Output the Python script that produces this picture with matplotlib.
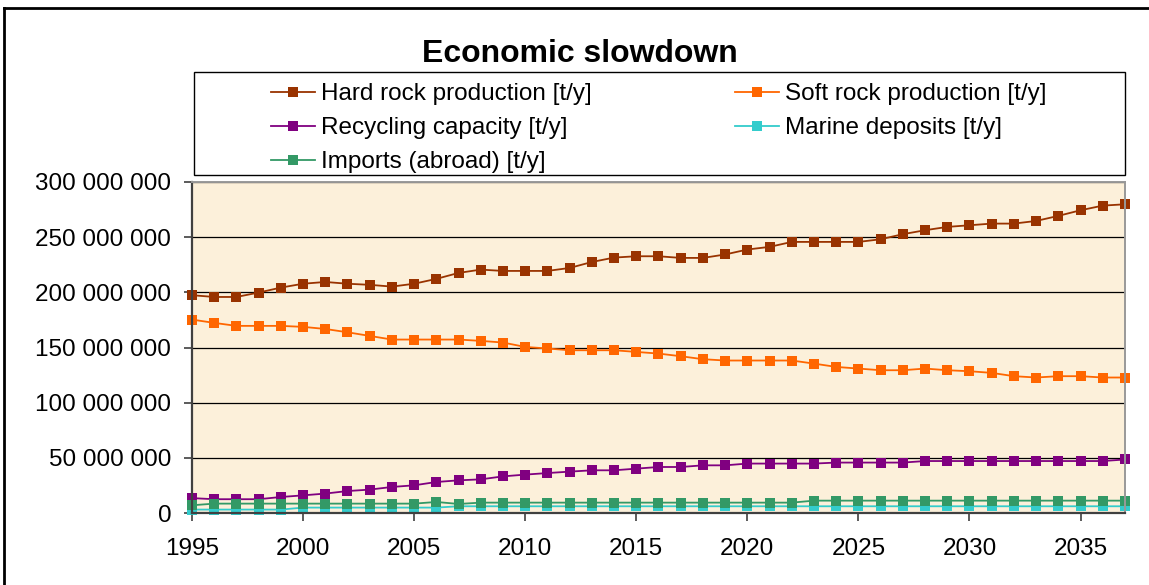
import matplotlib
matplotlib.use("Agg")
import matplotlib.pyplot as plt
from matplotlib.ticker import FuncFormatter, MultipleLocator
from matplotlib.patches import Rectangle
from matplotlib.lines import Line2D

plt.rcParams['font.family'] = ['Liberation Sans', 'DejaVu Sans']

years = list(range(1995, 2038))

hard_rock = [197.4, 195.8, 195.8, 199.8, 204.3, 207.8, 209.4, 207.8, 206.8, 205.2,
             207.8, 212.2, 217.6, 220.6, 219.4, 219.4, 219.4, 222.1, 227.5, 231.5,
             232.7, 232.7, 231.2, 231.2, 234.3, 238.8, 241.2, 245.7, 245.7, 245.7,
             245.7, 248.1, 252.7, 256.3, 259.3, 260.8, 262.3, 262.3, 264.7, 269.3,
             274.4, 278.6, 279.8]
soft_rock = [175.3, 172.3, 169.6, 169.6, 169.6, 168.7, 166.8, 163.8, 160.5, 157.2,
             157.2, 157.2, 157.2, 156.0, 154.5, 150.5, 149.1, 147.5, 147.5, 147.5,
             146.0, 144.5, 142.1, 139.4, 138.2, 138.2, 138.2, 138.2, 135.4, 132.4,
             130.9, 129.4, 129.4, 130.9, 129.4, 128.5, 127.0, 124.0, 122.8, 124.0,
             124.0, 122.8, 122.8]
recycling = [13.5, 12.5, 12.5, 12.5, 14.5, 16.0, 17.6, 19.9, 21.2, 23.6,
             25.1, 28.1, 29.6, 30.5, 33.2, 34.8, 36.2, 37.5, 38.7, 38.7,
             40.2, 41.7, 41.7, 43.2, 43.2, 44.8, 44.8, 44.8, 44.8, 45.7,
             45.7, 45.7, 45.7, 47.1, 47.1, 47.1, 47.1, 47.1, 47.1, 47.1,
             47.1, 47.1, 48.5]
marine = [3.1, 3.1, 3.1, 3.1, 3.1, 4.9, 4.9, 4.9, 4.9, 4.9,
          4.9, 4.9, 6.1, 6.1, 6.1, 6.1, 6.1, 6.1, 6.1, 6.1,
          6.1, 6.1, 6.1, 6.1, 6.1, 6.1, 6.1, 6.1, 6.1, 6.1,
          6.1, 6.1, 6.1, 6.1, 6.1, 6.1, 6.1, 6.1, 6.1, 6.1,
          6.1, 6.1, 6.1]
imports = [7.0, 8.5, 8.5, 8.5, 8.5, 8.5, 8.5, 8.5, 8.5, 8.5,
           8.5, 10.0, 8.2, 9.4, 9.4, 9.4, 9.4, 9.4, 9.4, 9.4,
           9.4, 9.4, 9.4, 9.4, 9.4, 9.4, 9.4, 9.4, 11.2, 11.2,
           11.2, 11.2, 11.2, 11.2, 11.2, 11.2, 11.2, 11.2, 11.2, 11.2,
           11.2, 11.2, 11.2]

series_labels = ["Hard rock production [t/y]", "Soft rock production [t/y]",
                 "Recycling capacity [t/y]", "Marine deposits [t/y]",
                 "Imports (abroad) [t/y]"]
series_colors = ["#993300", "#FF6600", "#800080", "#33CCCC", "#339966"]
title = "Economic slowdown"

W, H = 1149, 585
fig = plt.figure(figsize=(W / 100, H / 100), dpi=100)

# plot area
ax = fig.add_axes([192 / W, 1 - 513 / H, (1125 - 192) / W, (513 - 182) / H])
ax.set_facecolor("#FCF0DA")

handles = []
for vals, lab, col in zip([hard_rock, soft_rock, recycling, marine, imports],
                          series_labels, series_colors):
    h, = ax.plot(years, [v * 1e6 for v in vals], color=col, lw=1.3,
                 marker="s", markersize=7.3, markeredgewidth=0,
                 label=lab, clip_on=False, zorder=3)
    handles.append(h)

ax.set_xlim(1995, 2037)
ax.set_ylim(0, 300e6)
ax.xaxis.set_major_locator(MultipleLocator(5))
ax.yaxis.set_major_locator(MultipleLocator(50e6))
ax.yaxis.set_major_formatter(FuncFormatter(lambda v, p: f"{int(round(v)):,}".replace(",", " ")))
ax.yaxis.grid(True, color="black", lw=0.9, zorder=1)
ax.set_axisbelow(True)

ax.tick_params(axis="y", direction="out", length=6, width=1.2, color="#404040",
               labelsize=17.5, pad=9)
ax.tick_params(axis="x", direction="out", length=6, width=1.2, color="#404040",
               labelsize=17.5, pad=12)
for s in ("left", "bottom"):
    ax.spines[s].set_color("#404040")
    ax.spines[s].set_linewidth(1.6)
for s in ("top", "right"):
    ax.spines[s].set_color("#999999")
    ax.spines[s].set_linewidth(1.4)
for s in ax.spines.values():
    s.set_zorder(4)

# title
fig.text(580 / W, 1 - 54 / H, title, ha="center", va="center",
         fontsize=23, fontweight="bold")

# legend box
fig.patches.append(Rectangle((194 / W, 1 - 175 / H), (1125 - 194) / W, (175 - 72) / H,
                             transform=fig.transFigure, fill=False,
                             edgecolor="black", lw=1.0))
order = [handles[0], handles[2], handles[4], handles[1], handles[3]]
fig.legend(order, [h.get_label() for h in order], ncol=2, frameon=False,
           loc="upper left", bbox_to_anchor=(271 / W, 1 - 83 / H),
           borderpad=0, borderaxespad=0, fontsize=17.5, handlelength=1.8,
           handletextpad=0.25, columnspacing=5.9, labelspacing=0.5,
           numpoints=1)

# outer chart border (partially cropped)
fig.add_artist(Line2D([4 / W, 4 / W], [0, 1 - 8 / H], transform=fig.transFigure,
                      color="black", lw=2))
fig.add_artist(Line2D([4 / W, 1], [1 - 8 / H, 1 - 8 / H], transform=fig.transFigure,
                      color="black", lw=2))

fig.savefig("out.png", dpi=100)
